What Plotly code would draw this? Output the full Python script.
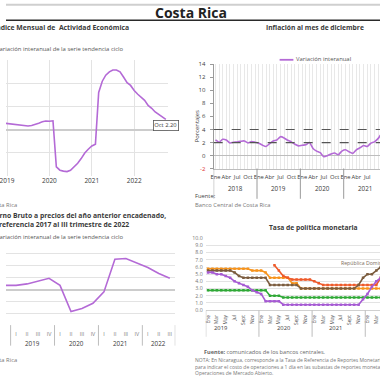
import plotly.graph_objects as go

W = H = 380
def fx(p): return p / W
def fy(p): return 1 - p / H

FONT = "Open Sans"
DARK = "#3a3a3a"
GRAY = "#777777"
GRID = "#e3e3e3"
PURPLE = "#B46AD6"

# ---------------- Data ----------------
# Panel 1: IMAE (monthly, variación interanual tendencia ciclo)
imae_fechas = (["2018-10-01", "2018-11-01", "2018-12-01"]
               + [f"{y}-{m:02d}-01" for y in (2019, 2020, 2021) for m in range(1, 13)]
               + [f"2022-{m:02d}-01" for m in range(1, 11)])
imae_valores = [1.6, 1.5, 1.35,
                1.3, 1.15, 1.05, 0.95, 0.85, 0.8, 0.8, 0.9, 1.1, 1.4, 1.7, 1.85,
                1.8, 1.9, -8.0, -8.7, -8.9, -9.0, -8.7, -8.0, -7.2, -6.2, -5.0, -4.2,
                -3.5, -3.1, 8.0, 10.4, 11.7, 12.4, 12.8, 12.8, 12.4, 11.3, 10.1, 9.5,
                8.4, 7.6, 6.9, 6.3, 5.2, 4.6, 3.8, 3.2, 2.7, 2.2]
imae_ultimo_mes = "Oct"

# Panel 2: Inflación
inf_anios = [2018, 2019, 2020, 2021]
inf_meses = ["Ene", "Feb", "Mar", "Abr", "May", "Jun", "Jul", "Ago", "Set", "Oct", "Nov", "Dic"]
inf_valores = [2.4, 2.05, 2.5, 2.4, 1.95, 2.05, 2.1, 2.2, 2.25, 1.95, 2.15, 2.05,
               1.9, 1.6, 1.4, 1.85, 2.25, 2.4, 2.9, 2.7, 2.35, 2.1, 1.75, 1.5,
               1.6, 1.65, 2.0, 1.1, 0.7, 0.45, -0.15, 0.0, 0.25, 0.4, 0.15, 0.7,
               0.9, 0.6, 0.35, 0.9, 1.2, 1.55, 1.4, 1.9, 2.1, 2.6, 3.3, 3.3]
inf_meta_inf = 2
inf_meta_sup = 4
inf_yticks = [-2, 0, 2, 4, 6, 8, 10, 12, 14]

# Panel 3: PIB trimestral
pib_anios = [2018, 2019, 2020, 2021, 2022]
pib_trimestres = ["I", "II", "III", "IV"]
pib_valores = [3.2, 2.9, 2.4, 1.8,
               1.8, 2.4, 3.6, 4.7,
               1.8, -9.0, -7.8, -5.6,
               -0.9, 12.6, 12.9, 11.2,
               9.2, 6.7, 4.7]

# Panel 4: Tasa de política monetaria (Ene 2019 - Abr 2022)
tpm_anios = [2019, 2020, 2021, 2022]
tpm_meses = ["Ene", "Feb", "Mar", "Abr", "May", "Jun", "Jul", "Ago", "Sept", "Oct", "Nov", "Dic"]
tpm_costa_rica = [5.25, 5.25, 5.0, 5.0, 4.75, 4.5, 4.0, 3.75, 3.5, 3.25, 2.75, 2.5,
                  2.25, 1.25, 1.25, 1.25, 1.25, 0.75, 0.75, 0.75, 0.75, 0.75, 0.75, 0.75,
                  0.75, 0.75, 0.75, 0.75, 0.75, 0.75, 0.75, 0.75, 0.75, 0.75, 0.75, 1.5,
                  2.25, 3.25, 4.0, 4.5]
tpm_guatemala = [2.75] * 14 + [2.0, 2.0, 2.0] + [1.75] * 23
tpm_honduras = [5.75, 5.75, 5.75, 5.75, 5.75, 5.75, 5.75, 5.75, 5.75, 5.75, 5.5, 5.5,
                5.5, 5.25, 4.5, 4.5, 4.5, 4.5, 4.5, 3.75, 3.75, 3.0, 3.0, 3.0,
                3.0, 3.0, 3.0, 3.0, 3.0, 3.0, 3.0, 3.0, 3.0, 3.0, 3.0, 3.0,
                3.0, 3.0, 3.0, 3.0]
tpm_nicaragua = [None] * 15 + [6.25, 5.5, 4.75, 4.5, 4.25, 4.25, 4.25, 4.25, 4.25,
                               4.0, 3.75, 3.5, 3.5, 3.5, 3.5, 3.5, 3.5, 3.5, 3.5, 3.5, 3.5,
                               3.5, 3.5, 3.5, 4.5]
tpm_rep_dominicana = [5.5, 5.5, 5.5, 5.5, 5.5, 5.5, 5.25, 4.75, 4.5, 4.5, 4.5, 4.5,
                      4.5, 4.5, 3.5, 3.5, 3.5, 3.5, 3.5, 3.5, 3.5, 3.0, 3.0, 3.0,
                      3.0, 3.0, 3.0, 3.0, 3.0, 3.0, 3.0, 3.0, 3.0, 3.0, 3.5, 4.5,
                      5.0, 5.0, 5.5, 6.0]
tpm_series = [("Honduras", tpm_honduras, "#F7941D"),
              ("Nicaragua", tpm_nicaragua, "#EE5A2A"),
              ("República Dominicana", tpm_rep_dominicana, "#7B5C3E"),
              ("Guatemala", tpm_guatemala, "#2FA836"),
              ("Costa Rica", tpm_costa_rica, "#A65BD3")]

# ---------------- Figure ----------------
fig = go.Figure()

# Panel 1
fig.add_trace(go.Scatter(x=imae_fechas, y=imae_valores, mode="lines",
                         line=dict(color=PURPLE, width=1.6), xaxis="x", yaxis="y",
                         showlegend=False, hoverinfo="skip"))

# Panel 2
inf_x = list(range(len(inf_valores)))
fig.add_trace(go.Scatter(x=inf_x, y=inf_valores, mode="lines", name="Variación interanual",
                         line=dict(color=PURPLE, width=1.6, shape="spline", smoothing=0.6),
                         xaxis="x2", yaxis="y2", showlegend=False, hoverinfo="skip"))
for lvl in (inf_meta_inf, inf_meta_sup):
    fig.add_shape(type="line", xref="x2 domain", yref="y2", x0=0, x1=1, y0=lvl, y1=lvl,
                  line=dict(color="#555555", width=1.2, dash="dash"), layer="above")

# Panel 3
pib_x = list(range(len(pib_valores)))
fig.add_trace(go.Scatter(x=pib_x, y=pib_valores, mode="lines",
                         line=dict(color=PURPLE, width=1.6), xaxis="x3", yaxis="y3",
                         showlegend=False, hoverinfo="skip"))

# Panel 4
tpm_x = list(range(len(tpm_costa_rica)))
for name, vals, col in tpm_series:
    fig.add_trace(go.Scatter(x=tpm_x, y=vals, mode="lines+markers", name=name,
                             line=dict(color=col, width=1.6),
                             marker=dict(color=col, size=2.5, symbol="square"),
                             xaxis="x4", yaxis="y4", showlegend=False, hoverinfo="skip"))

ann = []
shapes = []

def text(x, y, s, size, color=DARK, xanchor="left", bold=False, **kw):
    if bold:
        s = f"<b>{s}</b>"
    ann.append(dict(x=fx(x), y=fy(y), xref="paper", yref="paper", text=s, showarrow=False,
                    xanchor=xanchor, yanchor="middle", font=dict(size=size, color=color, family=FONT), **kw))

def hline(x0, x1, y, color, width):
    shapes.append(dict(type="line", xref="paper", yref="paper", x0=fx(x0), x1=fx(x1),
                       y0=fy(y), y1=fy(y), line=dict(color=color, width=width)))

# Header
hline(0, 380, 0.8, "#cfcfcf", 2)
hline(0, 380, 16.5, "#2a2a2a", 1.5)
text(188, 9, "Costa Rica", 14, color="#222222", xanchor="center", bold=True)

# Panel 1 texts
text(127, 24, "Índice Mensual de  Actividad Económica", 6.8, xanchor="right", bold=True)
text(122, 46, "Variación interanual de la serie tendencia ciclo", 5.9, color="#555555", xanchor="right")
ann.append(dict(x=imae_fechas[-1], y=imae_valores[-1], xref="x", yref="y",
                text=f"{imae_ultimo_mes} {imae_valores[-1]:.2f}", showarrow=False, yshift=-6,
                xanchor="center", yanchor="middle", bordercolor="#555555", borderwidth=0.8,
                borderpad=0.5, bgcolor="white", font=dict(size=5.8, color=DARK, family=FONT)))
text(13, 205, "Fuente: Banco Central de Costa Rica", 5.8, color=GRAY, xanchor="right")

# Panel 2 texts
text(314, 24, "Inflación al mes de diciembre", 6.7, xanchor="center", bold=True)
hline(278, 292, 57, PURPLE, 1.8)
text(293, 56.5, "Variación interanual", 5.9, color="#555555")
ann.append(dict(x=fx(194), y=fy(125), xref="paper", yref="paper", text="Porcentajes",
                showarrow=False, textangle=-90, xanchor="center", yanchor="middle",
                font=dict(size=5.9, color=DARK, family=FONT)))
text(190, 196.5, "Fuente:", 5.8, color="#444444")
text(190, 205, "Banco Central de Costa Rica", 5.8, color=GRAY)
for k, yr in enumerate(inf_anios):
    x0 = k * len(inf_meses) - 0.5
    x1 = x0 + len(inf_meses)
    ann.append(dict(x=(x0 + x1) / 2, y=fy(188), xref="x2", yref="paper", text=str(yr),
                    showarrow=False, xanchor="center", yanchor="middle",
                    font=dict(size=6.3, color=DARK, family=FONT)))
    shapes.append(dict(type="line", xref="x2", yref="paper", x0=x0, x1=x0,
                       y0=fy(168), y1=fy(199), line=dict(color="#9a9a9a", width=1)))

# Panel 3 texts
text(165, 216, "Producto Interno Bruto a precios del año anterior encadenado,", 6.8,
     xanchor="right", bold=True)
text(127, 225, "referencia 2017 al III trimestre de 2022", 6.8, xanchor="right", bold=True)
text(122, 238.5, "Variación interanual de la serie tendencia ciclo", 5.9, color="#555555", xanchor="right")
for k, yr in enumerate(pib_anios):
    x0 = k * len(pib_trimestres) - 0.5
    x1 = min(x0 + len(pib_trimestres), len(pib_valores) - 0.5)
    if k > 0:
        ann.append(dict(x=(x0 + x1) / 2, y=fy(346.5), xref="x3", yref="paper", text=str(yr),
                        showarrow=False, xanchor="center", yanchor="middle",
                        font=dict(size=6.3, color=DARK, family=FONT)))
        shapes.append(dict(type="line", xref="x3", yref="paper", x0=x0, x1=x0,
                           y0=fy(328), y1=fy(349), line=dict(color="#bdbdbd", width=1)))
shapes.append(dict(type="line", xref="x3", yref="paper", x0=len(pib_valores) - 0.5,
                   x1=len(pib_valores) - 0.5, y0=fy(328), y1=fy(349),
                   line=dict(color="#bdbdbd", width=1)))
text(13, 364, "Fuente: Banco Central de Costa Rica", 5.8, color=GRAY, xanchor="right")

# Panel 4 texts
text(312, 228, "Tasa de política monetaria", 6.7, xanchor="center", bold=True)
text(338, 264.5, "República Dominicana", 5.2, color="#7a6a5a")
tpm_label_px = [218, 282, 335]  # year-label positions (pixels) under the month axis
for yr, px in zip(tpm_anios[:3], tpm_label_px):
    text(px, 331, str(yr), 5.8, xanchor="center")
for k in range(4):
    x0 = k * len(tpm_meses) - 0.5
    shapes.append(dict(type="line", xref="x4", yref="paper", x0=x0, x1=x0,
                       y0=fy(313), y1=fy(340), line=dict(color="#bdbdbd", width=1)))
text(199, 355.5, "<b>Fuente:</b> comunicados de los bancos centrales.", 5.6, color="#666666")
ann.append(dict(x=fx(190), y=fy(358.5), xref="paper", yref="paper", showarrow=False,
                xanchor="left", yanchor="top", align="left",
                text=("NOTA: En Nicaragua, corresponde a la Tasa de Referencia de Reportes Monetarios (TRM), utilizada<br>"
                      "para indicar el costo de operaciones a 1 día en las subastas de reportes monetarios, del Banco Central,<br>"
                      "Operaciones de Mercado Abierto."),
                font=dict(size=5, color="#777777", family=FONT)))

fig.update_layout(
    width=W, height=H, autosize=False,
    margin=dict(l=0, r=0, t=0, b=0),
    paper_bgcolor="white", plot_bgcolor="white",
    font=dict(family=FONT, color=DARK),
    showlegend=False, hovermode=False,
    annotations=ann,
    shapes=list(fig.layout.shapes) + shapes,
    xaxis=dict(domain=[0, fx(165)], type="date", range=["2018-12-23", "2022-10-23"],
               tick0="2019-01-01", dtick="M12", tickformat="%Y", showgrid=True, gridcolor=GRID,
               zeroline=False, showline=False, ticks="", ticklen=0,
               tickfont=dict(size=6.5, color=DARK), ticklabeloverflow="allow",
               ticklabelstandoff=0, anchor="y"),
    yaxis=dict(domain=[fy(175.5), fy(56.75)], range=[-9.9, 15.05], tick0=0, dtick=5,
               showgrid=True, gridcolor=GRID, zeroline=True, zerolinecolor="#cccccc",
               zerolinewidth=2, showticklabels=False, anchor="x"),
    xaxis2=dict(domain=[fx(211), 1.0], range=[-0.5, 45.55], tickmode="array",
                tickvals=inf_x,
                ticktext=[inf_meses[i % 12] if i % 3 == 0 else "" for i in inf_x],
                tickangle=0, showgrid=True, gridcolor="#e8e8e8", zeroline=False, showline=True,
                linecolor="#bdbdbd", ticks="", ticklen=0, tickfont=dict(size=5.8, color=DARK),
                ticklabelstandoff=2, anchor="y2"),
    yaxis2=dict(domain=[fy(168.3), fy(61.3)], range=[-2, 14], tickmode="array",
                tickvals=inf_yticks,
                ticktext=[f"<span style='color:#e03030'>{v}</span>" if v < 0 else str(v)
                          for v in inf_yticks],
                showgrid=False, zeroline=True, zerolinecolor="#bdbdbd", zerolinewidth=1.5,
                showline=True, linecolor="#9a9a9a", ticks="outside", ticklen=3,
                tickcolor="#9a9a9a", tickfont=dict(size=6, color=DARK),
                ticklabelstandoff=3, anchor="x2"),
    xaxis3=dict(domain=[0, fx(172)], range=[3.08, 18.5], tickmode="array",
                tickvals=pib_x, ticktext=[pib_trimestres[i % 4] for i in pib_x],
                tickangle=0, showgrid=False, zeroline=False, showline=False, ticks="", ticklen=0,
                tickfont=dict(size=5.3, color=GRAY), ticklabeloverflow="allow",
                ticklabelstandoff=5, anchor="y3"),
    yaxis3=dict(domain=[fy(327.7), fy(242.3)], range=[-14.5, 20.05], tick0=0, dtick=5,
                showgrid=True, gridcolor=GRID, zeroline=True, zerolinecolor="#cccccc",
                zerolinewidth=2, showticklabels=False, anchor="x3"),
    xaxis4=dict(domain=[fx(203), 1.0], range=[-0.5, 38.83], tickmode="array",
                tickvals=tpm_x,
                ticktext=[tpm_meses[i % 12] if i % 2 == 0 else "" for i in tpm_x],
                tickangle=-90, showgrid=False, zeroline=False, showline=True,
                linecolor="#d0d0d0", ticks="", ticklen=0, tickfont=dict(size=4.8, color=DARK),
                ticklabelstandoff=2, anchor="y4"),
    yaxis4=dict(domain=[fy(312.7), fy(239.3)], range=[0, 10], tick0=0, dtick=1,
                tickformat=".1f", showgrid=True, gridcolor=GRID, zeroline=False,
                showline=False, ticks="", ticklen=0, tickfont=dict(size=5.3, color=GRAY),
                ticklabelstandoff=2, anchor="x4"),
)

fig.write_html("out.html", config={"displayModeBar": False, "staticPlot": True},
               post_script="document.body.style.margin='0';document.body.style.padding='0';"
                           "document.documentElement.style.overflow='hidden';")
